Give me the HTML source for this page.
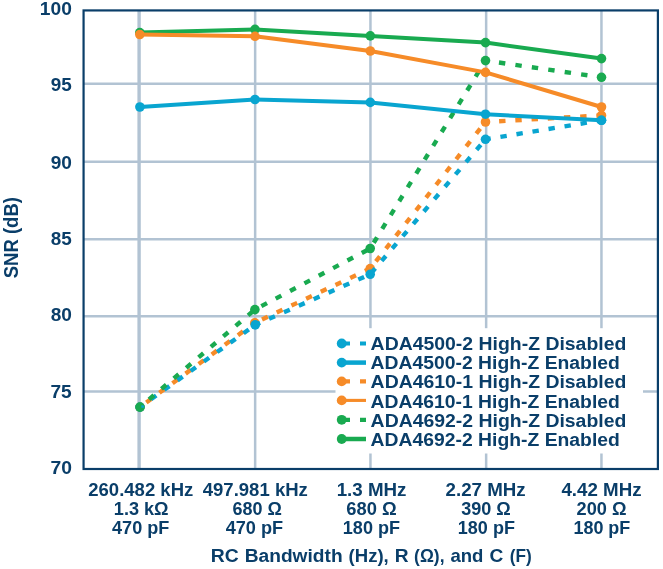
<!DOCTYPE html>
<html lang="en"><head><meta charset="utf-8"><title>SNR vs RC Bandwidth</title>
<style>
html,body{margin:0;padding:0;background:#fff;}
body{width:663px;height:569px;overflow:hidden;}
svg{display:block;}
text{font-family:"Liberation Sans",Arial,Helvetica,sans-serif;font-weight:bold;fill:#0a3e69;}
</style></head><body>
<svg width="663" height="569" viewBox="0 0 663 569">
<rect width="663" height="569" fill="#fff"/>

<g stroke="#b2c3d3" fill="none">
<line x1="139.10" y1="10.43" x2="139.10" y2="469.00" stroke-width="3.4"/>
<line x1="255.15" y1="10.43" x2="255.15" y2="469.00" stroke-width="2.5"/>
<line x1="370.45" y1="10.43" x2="370.45" y2="469.00" stroke-width="2.5"/>
<line x1="486.15" y1="10.43" x2="486.15" y2="469.00" stroke-width="2.5"/>
<line x1="601.45" y1="10.43" x2="601.45" y2="469.00" stroke-width="2.5"/>
<line x1="83.57" y1="83.80" x2="657.90" y2="83.80" stroke-width="2.4"/>
<line x1="83.57" y1="161.70" x2="657.90" y2="161.70" stroke-width="2.4"/>
<line x1="83.57" y1="239.20" x2="657.90" y2="239.20" stroke-width="2.4"/>
<line x1="83.57" y1="316.20" x2="657.90" y2="316.20" stroke-width="2.4"/>
<line x1="83.57" y1="391.50" x2="657.90" y2="391.50" stroke-width="2.4"/>
</g>
<rect x="335.5" y="328.2" width="307.5" height="125.3" fill="#fff"/>
<line x1="140.0" y1="407.1" x2="254.8" y2="322.8" stroke="#f68b28" stroke-width="4.4" stroke-dasharray="6.40 9.84" stroke-dashoffset="8.40"/>
<line x1="254.8" y1="322.8" x2="370.2" y2="268.6" stroke="#f68b28" stroke-width="4.4" stroke-dasharray="6.40 9.84" stroke-dashoffset="8.27"/>
<line x1="370.2" y1="268.6" x2="485.5" y2="122.0" stroke="#f68b28" stroke-width="4.4" stroke-dasharray="6.40 9.84" stroke-dashoffset="7.04"/>
<line x1="485.5" y1="122.0" x2="601.5" y2="115.4" stroke="#f68b28" stroke-width="4.4" stroke-dasharray="6.40 9.84" stroke-dashoffset="2.61"/>
<circle cx="140.0" cy="407.1" r="4.8" fill="#f68b28"/>
<circle cx="254.8" cy="322.8" r="4.8" fill="#f68b28"/>
<circle cx="370.2" cy="268.6" r="4.8" fill="#f68b28"/>
<circle cx="485.5" cy="122.0" r="4.8" fill="#f68b28"/>
<circle cx="601.5" cy="115.4" r="4.8" fill="#f68b28"/>
<line x1="140.0" y1="407.1" x2="255.2" y2="324.9" stroke="#09a5d0" stroke-width="4.4" stroke-dasharray="6.40 9.84" stroke-dashoffset="2.70"/>
<line x1="255.2" y1="324.9" x2="370.2" y2="274.3" stroke="#09a5d0" stroke-width="4.4" stroke-dasharray="6.40 9.84" stroke-dashoffset="1.06"/>
<line x1="370.2" y1="274.3" x2="485.5" y2="139.3" stroke="#09a5d0" stroke-width="4.4" stroke-dasharray="6.40 9.84" stroke-dashoffset="14.82"/>
<line x1="485.5" y1="139.3" x2="601.5" y2="120.3" stroke="#09a5d0" stroke-width="4.4" stroke-dasharray="6.40 9.84" stroke-dashoffset="1.12"/>
<circle cx="140.0" cy="407.1" r="4.8" fill="#09a5d0"/>
<circle cx="255.2" cy="324.9" r="4.8" fill="#09a5d0"/>
<circle cx="370.2" cy="274.3" r="4.8" fill="#09a5d0"/>
<circle cx="485.5" cy="139.3" r="4.8" fill="#09a5d0"/>
<circle cx="601.5" cy="120.3" r="4.8" fill="#09a5d0"/>
<line x1="140.0" y1="407.1" x2="254.9" y2="309.6" stroke="#19aa50" stroke-width="4.4" stroke-dasharray="6.40 9.84" stroke-dashoffset="4.40"/>
<line x1="254.9" y1="309.6" x2="370.2" y2="248.5" stroke="#19aa50" stroke-width="4.4" stroke-dasharray="6.40 9.84" stroke-dashoffset="8.93"/>
<line x1="370.2" y1="248.5" x2="485.5" y2="60.6" stroke="#19aa50" stroke-width="4.4" stroke-dasharray="6.40 9.84" stroke-dashoffset="9.50"/>
<line x1="485.5" y1="60.6" x2="601.5" y2="77.3" stroke="#19aa50" stroke-width="4.4" stroke-dasharray="6.40 10.20" stroke-dashoffset="3.00"/>
<circle cx="140.0" cy="407.1" r="4.8" fill="#19aa50"/>
<circle cx="254.9" cy="309.6" r="4.8" fill="#19aa50"/>
<circle cx="370.2" cy="248.5" r="4.8" fill="#19aa50"/>
<circle cx="485.5" cy="60.6" r="4.8" fill="#19aa50"/>
<circle cx="601.5" cy="77.3" r="4.8" fill="#19aa50"/>
<polyline points="139.8,32.6 255.0,29.4 370.3,35.9 485.5,42.6 601.5,58.6" fill="none" stroke="#19aa50" stroke-width="4" stroke-linejoin="round"/>
<circle cx="139.8" cy="32.6" r="4.8" fill="#19aa50"/>
<circle cx="255.0" cy="29.4" r="4.8" fill="#19aa50"/>
<circle cx="370.3" cy="35.9" r="4.8" fill="#19aa50"/>
<circle cx="485.5" cy="42.6" r="4.8" fill="#19aa50"/>
<circle cx="601.5" cy="58.6" r="4.8" fill="#19aa50"/>
<polyline points="139.8,34.5 255.0,36.3 370.3,51.0 485.5,72.4 601.5,107.0" fill="none" stroke="#f68b28" stroke-width="4" stroke-linejoin="round"/>
<circle cx="139.8" cy="34.5" r="4.8" fill="#f68b28"/>
<circle cx="255.0" cy="36.3" r="4.8" fill="#f68b28"/>
<circle cx="370.3" cy="51.0" r="4.8" fill="#f68b28"/>
<circle cx="485.5" cy="72.4" r="4.8" fill="#f68b28"/>
<circle cx="601.5" cy="107.0" r="4.8" fill="#f68b28"/>
<polyline points="139.9,107.0 255.0,99.5 370.3,102.4 485.5,114.2 601.5,120.3" fill="none" stroke="#09a5d0" stroke-width="4" stroke-linejoin="round"/>
<circle cx="139.9" cy="107.0" r="4.8" fill="#09a5d0"/>
<circle cx="255.0" cy="99.5" r="4.8" fill="#09a5d0"/>
<circle cx="370.3" cy="102.4" r="4.8" fill="#09a5d0"/>
<circle cx="485.5" cy="114.2" r="4.8" fill="#09a5d0"/>
<circle cx="601.5" cy="120.3" r="4.8" fill="#09a5d0"/>
<path d="M141.3 405.2h1.2a1.4 1.4 0 0 1 1.4 1.4v1.2h-2.6z" fill="#09a5d0"/>
<rect x="83.57" y="10.43" width="574.33" height="458.57" fill="none" stroke="#0a3e69" stroke-width="2.2"/>
<text transform="translate(39.85,15.30) scale(1.0382,1)" font-size="18.5">100</text>
<text transform="translate(50.63,91.30) scale(1.0236,1)" font-size="18.5">95</text>
<text transform="translate(50.63,168.90) scale(1.0334,1)" font-size="18.5">90</text>
<text transform="translate(50.63,245.30) scale(1.0236,1)" font-size="18.5">85</text>
<text transform="translate(50.63,321.20) scale(1.0334,1)" font-size="18.5">80</text>
<text transform="translate(50.44,398.20) scale(1.0334,1)" font-size="18.5">75</text>
<text transform="translate(50.43,474.20) scale(1.0434,1)" font-size="18.5">70</text>
<text transform="translate(88.24,495.60) scale(0.9911,1)" font-size="18.7">260.482 kHz</text>
<text transform="translate(113.81,514.60) scale(0.9694,1)" font-size="18.7">1.3 kΩ</text>
<text transform="translate(112.03,533.50) scale(0.9676,1)" font-size="18.7">470 pF</text>
<text transform="translate(202.72,495.60) scale(0.9923,1)" font-size="18.7">497.981 kHz</text>
<text transform="translate(232.57,514.60) scale(0.9611,1)" font-size="18.7">680 Ω</text>
<text transform="translate(225.63,533.50) scale(0.9710,1)" font-size="18.7">470 pF</text>
<text transform="translate(336.67,495.60) scale(1.0037,1)" font-size="18.7">1.3 MHz</text>
<text transform="translate(346.36,514.60) scale(0.9831,1)" font-size="18.7">680 Ω</text>
<text transform="translate(342.82,533.50) scale(0.9661,1)" font-size="18.7">180 pF</text>
<text transform="translate(445.54,495.60) scale(1.0012,1)" font-size="18.7">2.27 MHz</text>
<text transform="translate(461.24,514.60) scale(0.9657,1)" font-size="18.7">390 Ω</text>
<text transform="translate(457.82,533.50) scale(0.9643,1)" font-size="18.7">180 pF</text>
<text transform="translate(561.42,495.60) scale(1.0014,1)" font-size="18.7">4.42 MHz</text>
<text transform="translate(576.55,514.60) scale(0.9733,1)" font-size="18.7">200 Ω</text>
<text transform="translate(573.42,533.50) scale(0.9609,1)" font-size="18.7">180 pF</text>
<text transform="translate(210.74,561.95) scale(1.0307,1)" font-size="18.8">RC</text>
<text transform="translate(244.75,561.95) scale(1.0191,1)" font-size="18.8">Bandwidth</text>
<text transform="translate(348.56,561.95) scale(0.9872,1)" font-size="18.8">(Hz),</text>
<text transform="translate(394.77,561.95) scale(1.0200,1)" font-size="18.8">R</text>
<text transform="translate(414.12,561.95) scale(0.9256,1)" font-size="18.8">(Ω),</text>
<text transform="translate(450.44,561.95) scale(0.9869,1)" font-size="18.8">and</text>
<text transform="translate(489.45,561.95) scale(1.0200,1)" font-size="18.8">C</text>
<text transform="translate(509.72,561.95) scale(0.9166,1)" font-size="18.8">(F)</text>
<text transform="translate(370.61,349.50) scale(1.0330,1)" font-size="18.8">ADA4500-2 High-Z Disabled</text>
<text transform="translate(370.61,368.80) scale(1.0289,1)" font-size="18.8">ADA4500-2 High-Z Enabled</text>
<text transform="translate(370.61,388.10) scale(1.0330,1)" font-size="18.8">ADA4610-1 High-Z Disabled</text>
<text transform="translate(370.61,407.50) scale(1.0289,1)" font-size="18.8">ADA4610-1 High-Z Enabled</text>
<text transform="translate(370.61,426.80) scale(1.0330,1)" font-size="18.8">ADA4692-2 High-Z Disabled</text>
<text transform="translate(370.61,446.20) scale(1.0289,1)" font-size="18.8">ADA4692-2 High-Z Enabled</text>
<text transform="translate(18.0,278.36) rotate(-90) scale(0.9316,1)" font-size="19.9">SNR (dB)</text>
<path d="M343 343.5H350M360 343.5H366" stroke="#09a5d0" stroke-width="4.2" fill="none"/>
<circle cx="341.7" cy="343.5" r="4.9" fill="#09a5d0"/>
<line x1="341.7" y1="362.6" x2="366" y2="362.6" stroke="#09a5d0" stroke-width="4.5"/>
<circle cx="341.7" cy="362.6" r="4.9" fill="#09a5d0"/>
<path d="M343 381.4H350M360 381.4H366" stroke="#f68b28" stroke-width="4.2" fill="none"/>
<circle cx="341.7" cy="381.4" r="4.9" fill="#f68b28"/>
<line x1="341.7" y1="400.4" x2="366" y2="400.4" stroke="#f68b28" stroke-width="3.1"/>
<circle cx="341.7" cy="400.4" r="4.9" fill="#f68b28"/>
<path d="M343 419.8H350M360 419.8H366" stroke="#19aa50" stroke-width="4.2" fill="none"/>
<circle cx="341.7" cy="419.8" r="4.9" fill="#19aa50"/>
<line x1="341.7" y1="439.0" x2="366" y2="439.0" stroke="#19aa50" stroke-width="4.5"/>
<circle cx="341.7" cy="439.0" r="4.9" fill="#19aa50"/>
</svg></body></html>
